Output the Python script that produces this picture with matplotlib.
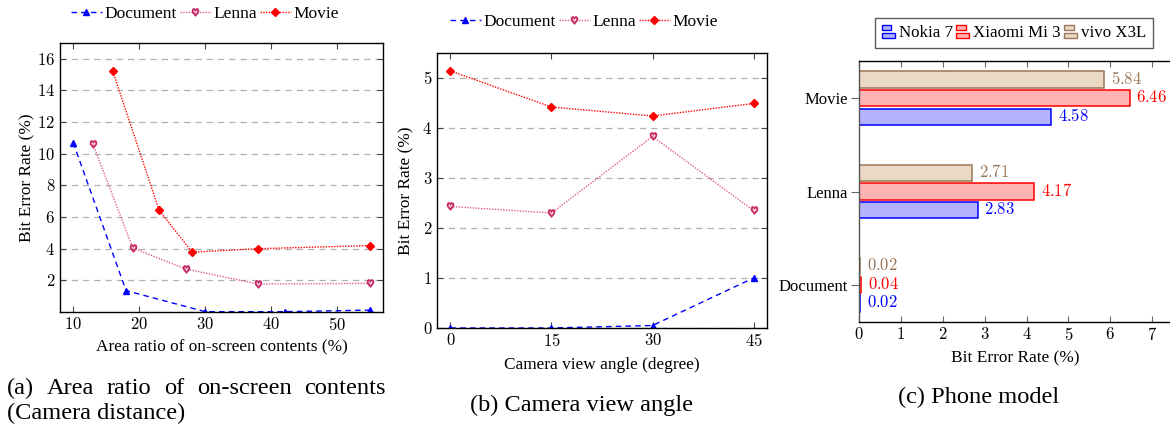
import matplotlib
matplotlib.use("Agg")
import matplotlib.pyplot as plt
from matplotlib.ticker import FuncFormatter, FixedLocator
from matplotlib.patches import Rectangle
from matplotlib.legend_handler import HandlerBase
import numpy as np

plt.rcParams['font.family'] = ['Liberation Serif', 'DejaVu Serif']
plt.rcParams['mathtext.fontset'] = 'cm'

# ---------------- data ----------------
# (a) area ratio
doc_a_x = [10, 18, 30, 42, 55]
doc_a_y = [10.7, 1.35, 0.02, 0.02, 0.12]
len_a_x = [13, 19, 27, 38, 55]
len_a_y = [10.6, 4.05, 2.72, 1.77, 1.81]
mov_a_x = [16, 23, 28, 38, 55]
mov_a_y = [15.2, 6.43, 3.78, 4.0, 4.2]
xticks_a = [10, 20, 30, 40, 50]
yticks_a = [2, 4, 6, 8, 10, 12, 14, 16]

# (b) view angle
angles_b = [0, 15, 30, 45]
doc_b = [0.0, 0.0, 0.05, 1.0]
len_b = [2.43, 2.30, 3.83, 2.35]
mov_b = [5.14, 4.42, 4.24, 4.49]
yticks_b = [0, 1, 2, 3, 4, 5]

# (c) phone model
contents_c = ['Document', 'Lenna', 'Movie']
phones_c = ['Nokia 7', 'Xiaomi Mi 3', 'vivo X3L']
nokia_c = [0.02, 2.83, 4.58]
xiaomi_c = [0.04, 4.17, 6.46]
vivo_c = [0.02, 2.71, 5.84]
xticks_c = [0, 1, 2, 3, 4, 5, 6, 7]

series_names = ['Document', 'Lenna', 'Movie']

# ---------------- styling ----------------
W, H = 1170, 428
fig = plt.figure(figsize=(W / 100, H / 100), dpi=100)

def px_axes(left, top, right, bottom):
    return fig.add_axes([left / W, 1 - bottom / H, (right - left) / W, (bottom - top) / H])

BLUE = '#0000FF'
LENNA = '#C8306A'
LENNA_LINE = '#E0608A'
RED = '#FF0000'
BROWN_E = '#9A7656'
BROWN_F = '#EAD9C5'

TICK_FS = 12
LABEL_FS = 12.4
LEG_FS = 12.5
CAP_FS = 17.6

mathfmt = FuncFormatter(lambda v, p: r'$%g$' % v)

def style_line_axes(ax):
    ax.tick_params(direction='in', top=True, right=True, length=4, width=0.8,
                   labelsize=TICK_FS, color='#444444')
    for s in ax.spines.values():
        s.set_linewidth(1.0)
        s.set_color('black')
    ax.yaxis.grid(True, linestyle=(0, (5, 4)), color='#b0b0b0', linewidth=0.9)
    ax.set_axisbelow(True)
    ax.xaxis.set_major_formatter(mathfmt)
    ax.yaxis.set_major_formatter(mathfmt)

def plot_three(ax, dx, dy, lx, ly, mx, my):
    h1, = ax.plot(dx, dy, color=BLUE, linestyle=(0, (4, 3)), linewidth=1.0,
                  marker='^', markersize=5, markerfacecolor=BLUE, markeredgecolor=BLUE)
    h2, = ax.plot(lx, ly, color=LENNA_LINE, linestyle=(0, (1, 1)), linewidth=1.0,
                  marker=r'$\heartsuit$', markersize=5, markerfacecolor=LENNA,
                  markeredgecolor=LENNA)
    h3, = ax.plot(mx, my, color=RED, linestyle=(0, (1, 1)), linewidth=1.0,
                  marker='D', markersize=4, markerfacecolor=RED, markeredgecolor=RED)
    return [h1, h2, h3]

LEG_KW = dict(ncol=3, frameon=False, fontsize=LEG_FS, handlelength=1.75,
              handletextpad=0.15, columnspacing=0.2, borderpad=0)

# ---------------- (a) ----------------
axa = px_axes(60, 43, 383, 312)
ha = plot_three(axa, doc_a_x, doc_a_y, len_a_x, len_a_y, mov_a_x, mov_a_y)
axa.set_xlim(8, 56.9)
axa.set_ylim(0, 17)
axa.xaxis.set_major_locator(FixedLocator(xticks_a))
axa.yaxis.set_major_locator(FixedLocator(yticks_a))
style_line_axes(axa)
axa.set_xlabel('Area ratio of on-screen contents (%)', fontsize=LABEL_FS, labelpad=4)
axa.set_ylabel('Bit Error Rate (%)', fontsize=LABEL_FS, labelpad=1)
fig.legend(ha, series_names, loc='center', bbox_to_anchor=(205 / W, 1 - 14 / H), **LEG_KW)

# ---------------- (b) ----------------
axb = px_axes(437, 53, 767, 328)
hb = plot_three(axb, angles_b, doc_b, angles_b, len_b, angles_b, mov_b)
axb.set_xlim(-2, 47)
axb.set_ylim(0, 5.5)
axb.xaxis.set_major_locator(FixedLocator(angles_b))
axb.yaxis.set_major_locator(FixedLocator(yticks_b))
style_line_axes(axb)
axb.set_xlabel('Camera view angle (degree)', fontsize=LABEL_FS, labelpad=5)
axb.set_ylabel('Bit Error Rate (%)', fontsize=LABEL_FS, labelpad=6)
fig.legend(hb, series_names, loc='center', bbox_to_anchor=(584 / W, 1 - 22 / H), **LEG_KW)

# ---------------- (c) ----------------
axc = px_axes(859, 61, 1171, 322)
ypos = np.arange(len(contents_c))
off = 0.2
bh = 0.175
bar_specs = [
    (nokia_c, -off, '#B3B3FF', BLUE, BLUE),
    (xiaomi_c, 0.0, '#FFB3B3', RED, RED),
    (vivo_c, off, BROWN_F, BROWN_E, BROWN_E),
]
bar_handles = []
for vals, o, fc, ec, tc in bar_specs:
    bars = axc.barh(ypos + o, vals, height=bh, color=fc, edgecolor=ec, linewidth=1.1)
    bar_handles.append(bars)
    for b, v in zip(bars, vals):
        axc.annotate(r'$%.2f$' % v, xy=(b.get_width(), b.get_y() + b.get_height() / 2),
                     xytext=(5, 0), textcoords='offset points', ha='left', va='center',
                     color=tc, fontsize=TICK_FS)
axc.set_xlim(0, 7.45)
axc.set_ylim(-0.4, 2.4)
axc.set_yticks(ypos)
axc.set_yticklabels(contents_c, fontsize=12)
axc.xaxis.set_major_locator(FixedLocator(xticks_c))
axc.xaxis.set_major_formatter(mathfmt)
axc.tick_params(axis='x', direction='in', top=True, bottom=True, length=4, width=0.8,
                labelsize=TICK_FS, color='#666666')
axc.tick_params(axis='y', direction='out', left=True, right=False, length=6, width=0.8,
                color='#666666', pad=2)
for s in axc.spines.values():
    s.set_linewidth(1.0)
    s.set_color('black')
axc.spines['left'].set_color('#555555')
axc.set_xlabel('Bit Error Rate (%)', fontsize=LABEL_FS, labelpad=5)


class DoubleBarHandler(HandlerBase):
    def create_artists(self, legend, orig_handle, xdescent, ydescent, width, height,
                       fontsize, trans):
        p = orig_handle.patches[0]
        fc = p.get_facecolor()
        ec = p.get_edgecolor()
        w = width * 0.9
        r1 = Rectangle((-xdescent, -ydescent - height * 0.1), w, height * 0.42,
                       facecolor=fc, edgecolor=ec, linewidth=1.0, transform=trans)
        r2 = Rectangle((-xdescent, -ydescent + height * 0.6), w * 0.75, height * 0.42,
                       facecolor=fc, edgecolor=ec, linewidth=1.0, transform=trans)
        return [r1, r2]


leg = fig.legend(bar_handles, phones_c, loc='center', bbox_to_anchor=(1014 / W, 1 - 33 / H),
                 ncol=3, frameon=True, fontsize=12.2, handlelength=0.85, handletextpad=0.15,
                 columnspacing=0.2, borderpad=0.4, fancybox=False, edgecolor='#333333',
                 handler_map={type(bar_handles[0]): DoubleBarHandler()})
leg.get_frame().set_linewidth(1.0)

# ---------------- captions ----------------
# caption (a): first line justified between x=7 and x=386 px
cap_a_words = ['(a)', 'Area', 'ratio', 'of', 'on-screen', 'contents']
x_left, x_right = 7, 386
renderer = fig.canvas.get_renderer()
txts = [fig.text(0, 1 - 388 / H, w, fontsize=CAP_FS, ha='left', va='center')
        for w in cap_a_words]
widths = [t.get_window_extent(renderer).width for t in txts]
gap = (x_right - x_left - sum(widths)) / (len(widths) - 1)
xcur = x_left
for t, wd in zip(txts, widths):
    t.set_x(xcur / W)
    xcur += wd + gap
fig.text(7 / W, 1 - 413 / H, '(Camera distance)', fontsize=CAP_FS, ha='left', va='center')
fig.text(581 / W, 1 - 405 / H, '(b) Camera view angle', fontsize=CAP_FS, ha='center', va='center')
fig.text(979 / W, 1 - 397 / H, '(c) Phone model', fontsize=CAP_FS, ha='center', va='center')

fig.savefig('out.png', dpi=100)
